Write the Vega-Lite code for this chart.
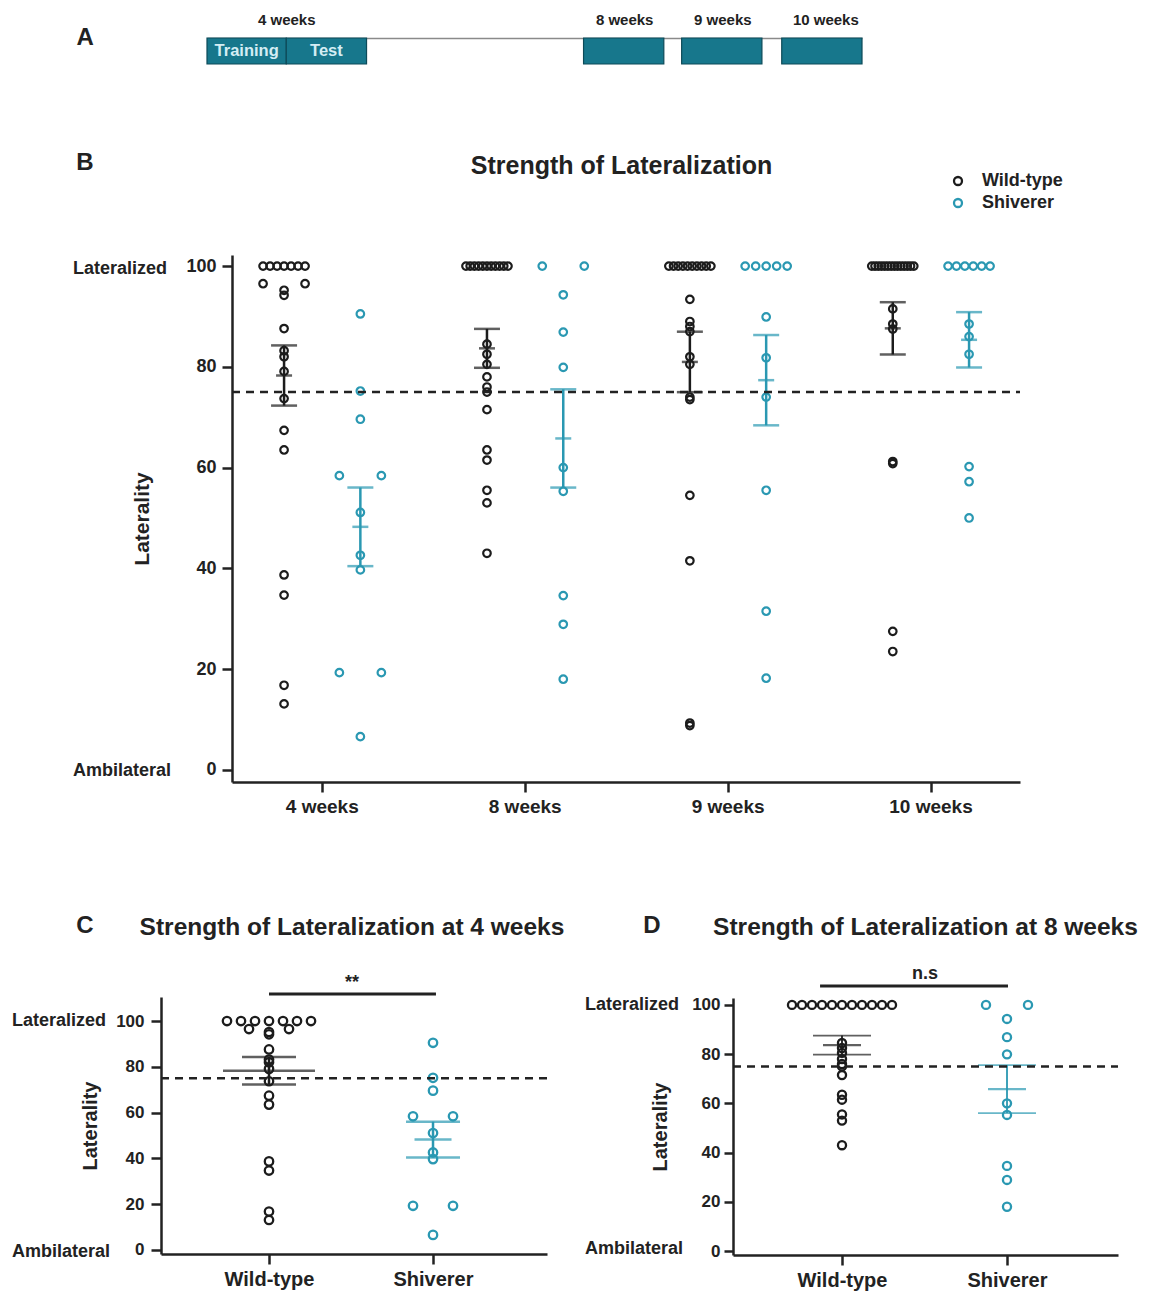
{
"$schema": "https://vega.github.io/schema/vega-lite/v6.json",
"width": 1150, "height": 1293,
"autosize": {"type": "none"},
"padding": 0,
"background": "#ffffff",
"config": {
  "view": {"stroke": null},
  "font": "Liberation Sans",
  "axis": {"grid": false, "domainColor": "#222222", "domainWidth": 2.5, "tickColor": "#222222", "tickWidth": 2.5, "labelColor": "#222222", "labelFontWeight": "bold", "labelFont": "Liberation Sans", "titleFont": "Liberation Sans", "titleFontWeight": "bold", "titleColor": "#222222"},
  "legend": {"labelFont": "Liberation Sans"}
},
"datasets": {
  "sessions": [
    {"session": "Training", "start": 4.2, "end": 5.0},
    {"session": "Test", "start": 5.0, "end": 5.81},
    {"session": "8 weeks", "start": 8.0, "end": 8.81},
    {"session": "9 weeks", "start": 8.99, "end": 9.8},
    {"session": "10 weeks", "start": 10.0, "end": 10.81}
  ],
  "points": [
    {"week":"4 weeks","genotype":"Wild-type","laterality":100},{"week":"4 weeks","genotype":"Wild-type","laterality":100},{"week":"4 weeks","genotype":"Wild-type","laterality":100},{"week":"4 weeks","genotype":"Wild-type","laterality":100},{"week":"4 weeks","genotype":"Wild-type","laterality":100},{"week":"4 weeks","genotype":"Wild-type","laterality":100},{"week":"4 weeks","genotype":"Wild-type","laterality":100},
    {"week":"4 weeks","genotype":"Wild-type","laterality":96.5},{"week":"4 weeks","genotype":"Wild-type","laterality":96.5},{"week":"4 weeks","genotype":"Wild-type","laterality":95.2},{"week":"4 weeks","genotype":"Wild-type","laterality":94.2},{"week":"4 weeks","genotype":"Wild-type","laterality":87.6},{"week":"4 weeks","genotype":"Wild-type","laterality":83.2},{"week":"4 weeks","genotype":"Wild-type","laterality":82.0},{"week":"4 weeks","genotype":"Wild-type","laterality":79.1},{"week":"4 weeks","genotype":"Wild-type","laterality":73.7},{"week":"4 weeks","genotype":"Wild-type","laterality":67.4},{"week":"4 weeks","genotype":"Wild-type","laterality":63.5},{"week":"4 weeks","genotype":"Wild-type","laterality":38.7},{"week":"4 weeks","genotype":"Wild-type","laterality":34.7},{"week":"4 weeks","genotype":"Wild-type","laterality":16.8},{"week":"4 weeks","genotype":"Wild-type","laterality":13.1},
    {"week":"4 weeks","genotype":"Shiverer","laterality":90.5},{"week":"4 weeks","genotype":"Shiverer","laterality":75.2},{"week":"4 weeks","genotype":"Shiverer","laterality":69.6},{"week":"4 weeks","genotype":"Shiverer","laterality":58.4},{"week":"4 weeks","genotype":"Shiverer","laterality":58.4},{"week":"4 weeks","genotype":"Shiverer","laterality":51.1},{"week":"4 weeks","genotype":"Shiverer","laterality":42.6},{"week":"4 weeks","genotype":"Shiverer","laterality":39.7},{"week":"4 weeks","genotype":"Shiverer","laterality":19.3},{"week":"4 weeks","genotype":"Shiverer","laterality":19.3},{"week":"4 weeks","genotype":"Shiverer","laterality":6.6},
    {"week":"8 weeks","genotype":"Wild-type","laterality":100},{"week":"8 weeks","genotype":"Wild-type","laterality":100},{"week":"8 weeks","genotype":"Wild-type","laterality":100},{"week":"8 weeks","genotype":"Wild-type","laterality":100},{"week":"8 weeks","genotype":"Wild-type","laterality":100},{"week":"8 weeks","genotype":"Wild-type","laterality":100},{"week":"8 weeks","genotype":"Wild-type","laterality":100},{"week":"8 weeks","genotype":"Wild-type","laterality":100},{"week":"8 weeks","genotype":"Wild-type","laterality":100},{"week":"8 weeks","genotype":"Wild-type","laterality":100},{"week":"8 weeks","genotype":"Wild-type","laterality":100},
    {"week":"8 weeks","genotype":"Wild-type","laterality":84.5},{"week":"8 weeks","genotype":"Wild-type","laterality":82.5},{"week":"8 weeks","genotype":"Wild-type","laterality":80.5},{"week":"8 weeks","genotype":"Wild-type","laterality":78},{"week":"8 weeks","genotype":"Wild-type","laterality":76},{"week":"8 weeks","genotype":"Wild-type","laterality":75},{"week":"8 weeks","genotype":"Wild-type","laterality":71.5},{"week":"8 weeks","genotype":"Wild-type","laterality":63.5},{"week":"8 weeks","genotype":"Wild-type","laterality":61.5},{"week":"8 weeks","genotype":"Wild-type","laterality":55.5},{"week":"8 weeks","genotype":"Wild-type","laterality":53},{"week":"8 weeks","genotype":"Wild-type","laterality":43},
    {"week":"8 weeks","genotype":"Shiverer","laterality":100},{"week":"8 weeks","genotype":"Shiverer","laterality":100},{"week":"8 weeks","genotype":"Shiverer","laterality":94.3},{"week":"8 weeks","genotype":"Shiverer","laterality":86.9},{"week":"8 weeks","genotype":"Shiverer","laterality":79.9},{"week":"8 weeks","genotype":"Shiverer","laterality":60.0},{"week":"8 weeks","genotype":"Shiverer","laterality":55.3},{"week":"8 weeks","genotype":"Shiverer","laterality":34.6},{"week":"8 weeks","genotype":"Shiverer","laterality":28.9},{"week":"8 weeks","genotype":"Shiverer","laterality":18.0},
    {"week":"9 weeks","genotype":"Wild-type","laterality":100},{"week":"9 weeks","genotype":"Wild-type","laterality":100},{"week":"9 weeks","genotype":"Wild-type","laterality":100},{"week":"9 weeks","genotype":"Wild-type","laterality":100},{"week":"9 weeks","genotype":"Wild-type","laterality":100},{"week":"9 weeks","genotype":"Wild-type","laterality":100},{"week":"9 weeks","genotype":"Wild-type","laterality":100},{"week":"9 weeks","genotype":"Wild-type","laterality":100},{"week":"9 weeks","genotype":"Wild-type","laterality":100},{"week":"9 weeks","genotype":"Wild-type","laterality":100},
    {"week":"9 weeks","genotype":"Wild-type","laterality":93.4},{"week":"9 weeks","genotype":"Wild-type","laterality":89},{"week":"9 weeks","genotype":"Wild-type","laterality":88},{"week":"9 weeks","genotype":"Wild-type","laterality":87},{"week":"9 weeks","genotype":"Wild-type","laterality":82},{"week":"9 weeks","genotype":"Wild-type","laterality":80.5},{"week":"9 weeks","genotype":"Wild-type","laterality":74},{"week":"9 weeks","genotype":"Wild-type","laterality":73.5},{"week":"9 weeks","genotype":"Wild-type","laterality":54.5},{"week":"9 weeks","genotype":"Wild-type","laterality":41.5},{"week":"9 weeks","genotype":"Wild-type","laterality":9.3},{"week":"9 weeks","genotype":"Wild-type","laterality":8.8},
    {"week":"9 weeks","genotype":"Shiverer","laterality":100},{"week":"9 weeks","genotype":"Shiverer","laterality":100},{"week":"9 weeks","genotype":"Shiverer","laterality":100},{"week":"9 weeks","genotype":"Shiverer","laterality":100},{"week":"9 weeks","genotype":"Shiverer","laterality":100},{"week":"9 weeks","genotype":"Shiverer","laterality":89.9},{"week":"9 weeks","genotype":"Shiverer","laterality":81.8},{"week":"9 weeks","genotype":"Shiverer","laterality":74.0},{"week":"9 weeks","genotype":"Shiverer","laterality":55.5},{"week":"9 weeks","genotype":"Shiverer","laterality":31.5},{"week":"9 weeks","genotype":"Shiverer","laterality":18.2},
    {"week":"10 weeks","genotype":"Wild-type","laterality":100},{"week":"10 weeks","genotype":"Wild-type","laterality":100},{"week":"10 weeks","genotype":"Wild-type","laterality":100},{"week":"10 weeks","genotype":"Wild-type","laterality":100},{"week":"10 weeks","genotype":"Wild-type","laterality":100},{"week":"10 weeks","genotype":"Wild-type","laterality":100},{"week":"10 weeks","genotype":"Wild-type","laterality":100},{"week":"10 weeks","genotype":"Wild-type","laterality":100},{"week":"10 weeks","genotype":"Wild-type","laterality":100},{"week":"10 weeks","genotype":"Wild-type","laterality":100},{"week":"10 weeks","genotype":"Wild-type","laterality":100},{"week":"10 weeks","genotype":"Wild-type","laterality":100},{"week":"10 weeks","genotype":"Wild-type","laterality":100},{"week":"10 weeks","genotype":"Wild-type","laterality":100},
    {"week":"10 weeks","genotype":"Wild-type","laterality":91.5},{"week":"10 weeks","genotype":"Wild-type","laterality":88.5},{"week":"10 weeks","genotype":"Wild-type","laterality":87.5},{"week":"10 weeks","genotype":"Wild-type","laterality":61.2},{"week":"10 weeks","genotype":"Wild-type","laterality":60.8},{"week":"10 weeks","genotype":"Wild-type","laterality":27.5},{"week":"10 weeks","genotype":"Wild-type","laterality":23.5},
    {"week":"10 weeks","genotype":"Shiverer","laterality":100},{"week":"10 weeks","genotype":"Shiverer","laterality":100},{"week":"10 weeks","genotype":"Shiverer","laterality":100},{"week":"10 weeks","genotype":"Shiverer","laterality":100},{"week":"10 weeks","genotype":"Shiverer","laterality":100},{"week":"10 weeks","genotype":"Shiverer","laterality":100},
    {"week":"10 weeks","genotype":"Shiverer","laterality":88.5},{"week":"10 weeks","genotype":"Shiverer","laterality":86},{"week":"10 weeks","genotype":"Shiverer","laterality":82.5},{"week":"10 weeks","genotype":"Shiverer","laterality":60.2},{"week":"10 weeks","genotype":"Shiverer","laterality":57.2},{"week":"10 weeks","genotype":"Shiverer","laterality":50}
  ]
},
"layer": [
  {
    "layer": [
      {
        "data": {"name": "sessions"},
        "mark": {"type": "rect", "fill": "#17778c", "stroke": "#0d4a58", "strokeWidth": 1.2},
        "encoding": {
          "x": {"field": "start", "type": "quantitative", "scale": {"domain": [4.2, 10.81], "range": [207, 862], "nice": false, "zero": false},
                "axis": {"orient": "top", "offset": -38, "values": [5.0, 8.41, 9.4, 10.44], "labelExpr": "datum.value < 6 ? '4 weeks' : datum.value < 9 ? '8 weeks' : datum.value < 10 ? '9 weeks' : '10 weeks'", "ticks": false, "domainColor": "#8a8a8a", "domainWidth": 1.5, "labelFontSize": 15, "labelPadding": 11, "title": null, "labelFlush": false, "labelOverlap": false}},
          "x2": {"field": "end"},
          "y": {"datum": 0, "type": "quantitative", "scale": {"domain": [0, 1], "range": [64, 38], "nice": false, "zero": false}, "axis": null},
          "y2": {"datum": 1}
        }
      },
      {
        "data": {"name": "sessions"},
        "transform": [{"filter": "datum.session == 'Training' || datum.session == 'Test'"}, {"calculate": "(datum.start + datum.end) / 2", "as": "mid"}],
        "mark": {"type": "text", "fontSize": 16.5, "fontWeight": "bold", "color": "#d4edf4", "baseline": "middle"},
        "encoding": {
          "x": {"field": "mid", "type": "quantitative"},
          "y": {"datum": 0.5, "type": "quantitative"},
          "text": {"field": "session"}
        }
      },
      {
        "data": {"values": [{}]},
        "mark": {"type": "text", "fontSize": 24, "fontWeight": "bold", "color": "#222222", "baseline": "middle"},
        "encoding": {
          "x": {"datum": 2.97, "type": "quantitative"},
          "y": {"datum": 1, "type": "quantitative"},
          "text": {"value": "A"}
        }
      }
    ]
  },
  {
    "data": {"name": "points"},
    "transform": [
      {"window": [{"op": "row_number", "as": "idx"}], "groupby": ["week", "genotype", "laterality"]},
      {"joinaggregate": [{"op": "count", "as": "n"}], "groupby": ["week", "genotype", "laterality"]},
      {"calculate": "indexof(['4 weeks','8 weeks','9 weeks','10 weeks'], datum.week) + (datum.genotype == 'Wild-type' ? -0.186 : 0.19)", "as": "xb"},
      {"calculate": "datum.xb + (datum.n > 1 ? (datum.idx - 1 - (datum.n - 1) / 2) * 42 / (datum.n - 1) : 0) / 202.9", "as": "xj"}
    ],
    "layer": [
      {
        "mark": {"type": "point", "shape": "circle", "filled": false, "size": 57, "strokeWidth": 2.2, "opacity": 1},
        "encoding": {
          "x": {"field": "xj", "type": "quantitative", "scale": {"domain": [-0.4426, 3.441], "range": [232, 1020], "nice": false, "zero": false},
                "axis": {"orient": "bottom", "offset": -511, "values": [0, 1, 2, 3], "labelExpr": "['4 weeks','8 weeks','9 weeks','10 weeks'][datum.value]", "labelFontSize": 19, "tickSize": 10, "labelPadding": 5, "title": null, "labelFlush": false}},
          "y": {"field": "laterality", "type": "quantitative", "scale": {"domain": [-2.4, 102.2], "range": [782, 255], "nice": false, "zero": false},
                "axis": {"orient": "left", "offset": -232, "values": [0, 20, 40, 60, 80, 100], "labelFontSize": 18, "tickSize": 10, "labelPadding": 6, "title": "Laterality", "titleFontSize": 21, "titleX": -90, "titleAngle": -90, "titleBaseline": "middle", "titleAlign": "center"}},
          "color": {"field": "genotype", "type": "nominal", "scale": {"domain": ["Wild-type", "Shiverer"], "range": ["#1c1c1c", "#2a98b2"]},
                    "legend": {"orient": "none", "legendX": 949, "legendY": 172, "title": null, "labelFontSize": 18, "labelFontWeight": "bold", "labelColor": "#222222", "symbolType": "circle", "symbolSize": 64, "symbolStrokeWidth": 2.3, "labelOffset": 15, "rowPadding": 4, "padding": 0}}
        }
      },
      {
        "transform": [
          {"aggregate": [{"op": "mean", "field": "laterality", "as": "m"}, {"op": "stderr", "field": "laterality", "as": "se"}], "groupby": ["week", "genotype", "xb"]},
          {"calculate": "datum.m - datum.se", "as": "lo"},
          {"calculate": "datum.m + datum.se", "as": "hi"}
        ],
        "layer": [
          {"mark": {"type": "rule", "strokeWidth": 2.5},
           "encoding": {"x": {"field": "xb", "type": "quantitative"}, "y": {"field": "lo", "type": "quantitative"}, "y2": {"field": "hi"},
                        "color": {"condition": {"test": "datum.genotype == 'Wild-type'", "value": "#1c1c1c"}, "value": "#2a98b2"}}},
          {"mark": {"type": "tick", "orient": "horizontal", "size": 26, "thickness": 2.5},
           "encoding": {"x": {"field": "xb", "type": "quantitative"}, "y": {"field": "hi", "type": "quantitative"},
                        "color": {"condition": {"test": "datum.genotype == 'Wild-type'", "value": "#1c1c1c"}, "value": "#2a98b2"}}},
          {"mark": {"type": "tick", "orient": "horizontal", "size": 26, "thickness": 2.5},
           "encoding": {"x": {"field": "xb", "type": "quantitative"}, "y": {"field": "lo", "type": "quantitative"},
                        "color": {"condition": {"test": "datum.genotype == 'Wild-type'", "value": "#1c1c1c"}, "value": "#2a98b2"}}},
          {"mark": {"type": "tick", "orient": "horizontal", "size": 16, "thickness": 2.5},
           "encoding": {"x": {"field": "xb", "type": "quantitative"}, "y": {"field": "m", "type": "quantitative"},
                        "color": {"condition": {"test": "datum.genotype == 'Wild-type'", "value": "#1c1c1c"}, "value": "#2a98b2"}}}
        ]
      },
      {
        "data": {"values": [{}]},
        "mark": {"type": "rule", "strokeDash": [8, 6], "strokeWidth": 2.5, "color": "#222222"},
        "encoding": {"x": {"datum": -0.4426, "type": "quantitative"}, "x2": {"datum": 3.441}, "y": {"datum": 75, "type": "quantitative"}}
      },
      {
        "data": {"values": [{}]},
        "mark": {"type": "text", "fontSize": 24, "fontWeight": "bold", "color": "#222222", "baseline": "middle", "align": "center"},
        "encoding": {"x": {"datum": -1.167, "type": "quantitative"}, "y": {"datum": 120.47, "type": "quantitative"}, "text": {"value": "B"}}
      },
      {
        "data": {"values": [{}]},
        "mark": {"type": "text", "fontSize": 25, "fontWeight": "bold", "color": "#222222", "baseline": "middle", "align": "center"},
        "encoding": {"x": {"datum": 1.477, "type": "quantitative"}, "y": {"datum": 119.87, "type": "quantitative"}, "text": {"value": "Strength of Lateralization"}}
      },
      {
        "data": {"values": [{}]},
        "mark": {"type": "text", "fontSize": 18, "fontWeight": "bold", "color": "#222222", "baseline": "middle", "align": "left"},
        "encoding": {"x": {"datum": -1.2262, "type": "quantitative"}, "y": {"datum": 99.5, "type": "quantitative"}, "text": {"value": "Lateralized"}}
      },
      {
        "data": {"values": [{}]},
        "mark": {"type": "text", "fontSize": 18, "fontWeight": "bold", "color": "#222222", "baseline": "middle", "align": "left"},
        "encoding": {"x": {"datum": -1.2262, "type": "quantitative"}, "y": {"datum": -0.2, "type": "quantitative"}, "text": {"value": "Ambilateral"}}
      }
    ]
  },
  {
    "data": {"name": "points"},
    "transform": [
      {"filter": "datum.week == '4 weeks'"},
      {"window": [{"op": "row_number", "as": "idx"}], "groupby": ["genotype", "laterality"]},
      {"joinaggregate": [{"op": "count", "as": "n"}], "groupby": ["genotype", "laterality"]},
      {"calculate": "datum.genotype == 'Wild-type' ? 0 : 1", "as": "xb"},
      {"calculate": "datum.xb + (datum.n > 1 ? (datum.idx - 1 - (datum.n - 1) / 2) * (datum.n == 2 ? 40 : 14) : 0) / 164", "as": "xj"}
    ],
    "layer": [
      {
        "mark": {"type": "point", "shape": "circle", "filled": false, "size": 71, "strokeWidth": 2.3, "opacity": 1},
        "encoding": {
          "x": {"field": "xj", "type": "quantitative", "scale": {"domain": [-0.6585, 1.695], "range": [161, 547], "nice": false, "zero": false},
                "axis": {"orient": "bottom", "offset": -39, "values": [0, 1], "labelExpr": "datum.value == 0 ? 'Wild-type' : 'Shiverer'", "labelFontSize": 20, "tickSize": 10, "labelPadding": 5, "title": null, "labelFlush": false}},
          "y": {"field": "laterality", "type": "quantitative", "scale": {"domain": [-1.75, 110.5], "range": [1254, 997], "nice": false, "zero": false},
                "axis": {"orient": "left", "offset": -161, "values": [0, 20, 40, 60, 80, 100], "labelFontSize": 17, "tickSize": 10, "labelPadding": 7, "title": "Laterality", "titleFontSize": 20, "titleX": -71, "titleAngle": -90, "titleBaseline": "middle", "titleAlign": "center"}},
          "color": {"field": "genotype", "type": "nominal", "scale": {"domain": ["Wild-type", "Shiverer"], "range": ["#1c1c1c", "#2a98b2"]}, "legend": null}
        }
      },
      {
        "transform": [
          {"aggregate": [{"op": "mean", "field": "laterality", "as": "m"}, {"op": "stderr", "field": "laterality", "as": "se"}], "groupby": ["genotype", "xb"]},
          {"calculate": "datum.m - datum.se", "as": "lo"},
          {"calculate": "datum.m + datum.se", "as": "hi"}
        ],
        "layer": [
          {"mark": {"type": "rule", "strokeWidth": 2.5},
           "encoding": {"x": {"field": "xb", "type": "quantitative"}, "y": {"field": "lo", "type": "quantitative"}, "y2": {"field": "hi"},
                        "color": {"condition": {"test": "datum.genotype == 'Wild-type'", "value": "#1c1c1c"}, "value": "#2a98b2"}}},
          {"mark": {"type": "tick", "orient": "horizontal", "size": 54, "thickness": 2.5},
           "encoding": {"x": {"field": "xb", "type": "quantitative"}, "y": {"field": "hi", "type": "quantitative"},
                        "color": {"condition": {"test": "datum.genotype == 'Wild-type'", "value": "#1c1c1c"}, "value": "#2a98b2"}}},
          {"mark": {"type": "tick", "orient": "horizontal", "size": 54, "thickness": 2.5},
           "encoding": {"x": {"field": "xb", "type": "quantitative"}, "y": {"field": "lo", "type": "quantitative"},
                        "color": {"condition": {"test": "datum.genotype == 'Wild-type'", "value": "#1c1c1c"}, "value": "#2a98b2"}}},
          {"mark": {"type": "tick", "orient": "horizontal", "thickness": 2.5},
           "encoding": {"x": {"field": "xb", "type": "quantitative"}, "y": {"field": "m", "type": "quantitative"},
                        "size": {"condition": {"test": "datum.genotype == 'Wild-type'", "value": 92}, "value": 37},
                        "color": {"condition": {"test": "datum.genotype == 'Wild-type'", "value": "#1c1c1c"}, "value": "#2a98b2"}}}
        ]
      },
      {
        "data": {"values": [{}]},
        "mark": {"type": "rule", "strokeDash": [8, 6], "strokeWidth": 2.5, "color": "#222222"},
        "encoding": {"x": {"datum": -0.6585, "type": "quantitative"}, "x2": {"datum": 1.695}, "y": {"datum": 75, "type": "quantitative"}}
      },
      {
        "data": {"values": [{}]},
        "mark": {"type": "rule", "strokeWidth": 3, "color": "#222222"},
        "encoding": {"x": {"datum": 0, "type": "quantitative"}, "x2": {"datum": 1.018}, "y": {"datum": 111.8, "type": "quantitative"}}
      },
      {
        "data": {"values": [{}]},
        "mark": {"type": "text", "fontSize": 18, "fontWeight": "bold", "color": "#222222", "baseline": "middle", "align": "center"},
        "encoding": {"x": {"datum": 0.506, "type": "quantitative"}, "y": {"datum": 116.5, "type": "quantitative"}, "text": {"value": "**"}}
      },
      {
        "data": {"values": [{}]},
        "mark": {"type": "text", "fontSize": 24, "fontWeight": "bold", "color": "#222222", "baseline": "middle", "align": "center"},
        "encoding": {"x": {"datum": -1.122, "type": "quantitative"}, "y": {"datum": 141.5, "type": "quantitative"}, "text": {"value": "C"}}
      },
      {
        "data": {"values": [{}]},
        "mark": {"type": "text", "fontSize": 24.5, "fontWeight": "bold", "color": "#222222", "baseline": "middle", "align": "center"},
        "encoding": {"x": {"datum": 0.506, "type": "quantitative"}, "y": {"datum": 140.6, "type": "quantitative"}, "text": {"value": "Strength of Lateralization at 4 weeks"}}
      },
      {
        "data": {"values": [{}]},
        "mark": {"type": "text", "fontSize": 18, "fontWeight": "bold", "color": "#222222", "baseline": "middle", "align": "left"},
        "encoding": {"x": {"datum": -1.567, "type": "quantitative"}, "y": {"datum": 100, "type": "quantitative"}, "text": {"value": "Lateralized"}}
      },
      {
        "data": {"values": [{}]},
        "mark": {"type": "text", "fontSize": 18, "fontWeight": "bold", "color": "#222222", "baseline": "middle", "align": "left"},
        "encoding": {"x": {"datum": -1.567, "type": "quantitative"}, "y": {"datum": -0.9, "type": "quantitative"}, "text": {"value": "Ambilateral"}}
      }
    ]
  },
  {
    "data": {"name": "points"},
    "transform": [
      {"filter": "datum.week == '8 weeks'"},
      {"window": [{"op": "row_number", "as": "idx"}], "groupby": ["genotype", "laterality"]},
      {"joinaggregate": [{"op": "count", "as": "n"}], "groupby": ["genotype", "laterality"]},
      {"calculate": "datum.genotype == 'Wild-type' ? 0 : 1", "as": "xb"},
      {"calculate": "datum.xb + (datum.n > 1 ? (datum.idx - 1 - (datum.n - 1) / 2) * (datum.n == 2 ? 42 : 10) : 0) / 165", "as": "xj"}
    ],
    "layer": [
      {
        "mark": {"type": "point", "shape": "circle", "filled": false, "size": 66, "strokeWidth": 2.3, "opacity": 1},
        "encoding": {
          "x": {"field": "xj", "type": "quantitative", "scale": {"domain": [-0.6606, 1.6727], "range": [733, 1118], "nice": false, "zero": false},
                "axis": {"orient": "bottom", "offset": -38, "values": [0, 1], "labelExpr": "datum.value == 0 ? 'Wild-type' : 'Shiverer'", "labelFontSize": 20, "tickSize": 10, "labelPadding": 5, "title": null, "labelFlush": false}},
          "y": {"field": "laterality", "type": "quantitative", "scale": {"domain": [-1.6, 102.8], "range": [1255, 998], "nice": false, "zero": false},
                "axis": {"orient": "left", "offset": -733, "values": [0, 20, 40, 60, 80, 100], "labelFontSize": 17, "tickSize": 9, "labelPadding": 4, "title": "Laterality", "titleFontSize": 20, "titleX": -73, "titleAngle": -90, "titleBaseline": "middle", "titleAlign": "center"}},
          "color": {"field": "genotype", "type": "nominal", "scale": {"domain": ["Wild-type", "Shiverer"], "range": ["#1c1c1c", "#2a98b2"]}, "legend": null}
        }
      },
      {
        "transform": [
          {"aggregate": [{"op": "mean", "field": "laterality", "as": "m"}, {"op": "stderr", "field": "laterality", "as": "se"}], "groupby": ["genotype", "xb"]},
          {"calculate": "datum.m - datum.se", "as": "lo"},
          {"calculate": "datum.m + datum.se", "as": "hi"}
        ],
        "layer": [
          {"mark": {"type": "rule", "strokeWidth": 1.8},
           "encoding": {"x": {"field": "xb", "type": "quantitative"}, "y": {"field": "lo", "type": "quantitative"}, "y2": {"field": "hi"},
                        "color": {"condition": {"test": "datum.genotype == 'Wild-type'", "value": "#1c1c1c"}, "value": "#2a98b2"}}},
          {"mark": {"type": "tick", "orient": "horizontal", "size": 58, "thickness": 1.8},
           "encoding": {"x": {"field": "xb", "type": "quantitative"}, "y": {"field": "hi", "type": "quantitative"},
                        "color": {"condition": {"test": "datum.genotype == 'Wild-type'", "value": "#1c1c1c"}, "value": "#2a98b2"}}},
          {"mark": {"type": "tick", "orient": "horizontal", "size": 58, "thickness": 1.8},
           "encoding": {"x": {"field": "xb", "type": "quantitative"}, "y": {"field": "lo", "type": "quantitative"},
                        "color": {"condition": {"test": "datum.genotype == 'Wild-type'", "value": "#1c1c1c"}, "value": "#2a98b2"}}},
          {"mark": {"type": "tick", "orient": "horizontal", "size": 38, "thickness": 2.2},
           "encoding": {"x": {"field": "xb", "type": "quantitative"}, "y": {"field": "m", "type": "quantitative"},
                        "color": {"condition": {"test": "datum.genotype == 'Wild-type'", "value": "#1c1c1c"}, "value": "#2a98b2"}}}
        ]
      },
      {
        "data": {"values": [{}]},
        "mark": {"type": "rule", "strokeDash": [8, 6], "strokeWidth": 2.5, "color": "#222222"},
        "encoding": {"x": {"datum": -0.6606, "type": "quantitative"}, "x2": {"datum": 1.6727}, "y": {"datum": 75, "type": "quantitative"}}
      },
      {
        "data": {"values": [{}]},
        "mark": {"type": "rule", "strokeWidth": 3, "color": "#222222"},
        "encoding": {"x": {"datum": -0.133, "type": "quantitative"}, "x2": {"datum": 1.006}, "y": {"datum": 107.7, "type": "quantitative"}}
      },
      {
        "data": {"values": [{}]},
        "mark": {"type": "text", "fontSize": 18, "fontWeight": "bold", "color": "#222222", "baseline": "middle", "align": "center"},
        "encoding": {"x": {"datum": 0.503, "type": "quantitative"}, "y": {"datum": 112.55, "type": "quantitative"}, "text": {"value": "n.s"}}
      },
      {
        "data": {"values": [{}]},
        "mark": {"type": "text", "fontSize": 24, "fontWeight": "bold", "color": "#222222", "baseline": "middle", "align": "center"},
        "encoding": {"x": {"datum": -1.1515, "type": "quantitative"}, "y": {"datum": 132.05, "type": "quantitative"}, "text": {"value": "D"}}
      },
      {
        "data": {"values": [{}]},
        "mark": {"type": "text", "fontSize": 24.5, "fontWeight": "bold", "color": "#222222", "baseline": "middle", "align": "center"},
        "encoding": {"x": {"datum": 0.506, "type": "quantitative"}, "y": {"datum": 131.2, "type": "quantitative"}, "text": {"value": "Strength of Lateralization at 8 weeks"}}
      },
      {
        "data": {"values": [{}]},
        "mark": {"type": "text", "fontSize": 18, "fontWeight": "bold", "color": "#222222", "baseline": "middle", "align": "left"},
        "encoding": {"x": {"datum": -1.5576, "type": "quantitative"}, "y": {"datum": 100, "type": "quantitative"}, "text": {"value": "Lateralized"}}
      },
      {
        "data": {"values": [{}]},
        "mark": {"type": "text", "fontSize": 18, "fontWeight": "bold", "color": "#222222", "baseline": "middle", "align": "left"},
        "encoding": {"x": {"datum": -1.5576, "type": "quantitative"}, "y": {"datum": 0.84, "type": "quantitative"}, "text": {"value": "Ambilateral"}}
      }
    ]
  }
],
"resolve": {"scale": {"x": "independent", "y": "independent"}, "axis": {"x": "independent", "y": "independent"}}
}
